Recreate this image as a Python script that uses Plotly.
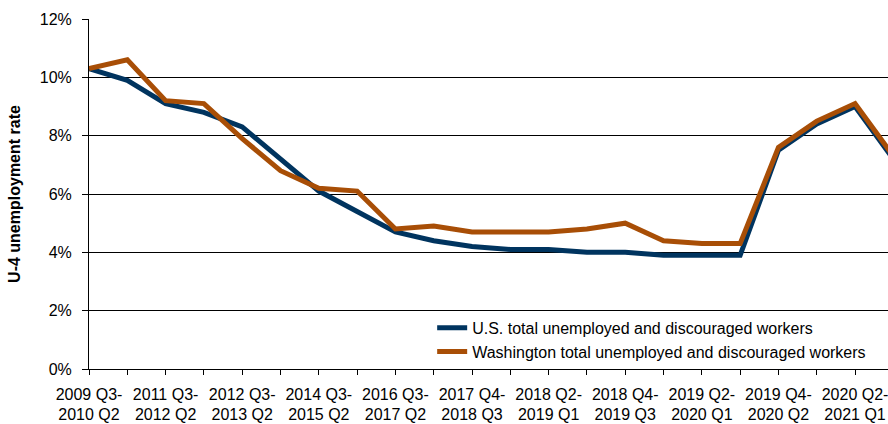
import plotly.graph_objects as go

# Rolling four-quarter periods (one point per period); every other period is labelled
label_top = ["2009 Q3-", "2011 Q3-", "2012 Q3-", "2014 Q3-", "2016 Q3-", "2017 Q4-",
             "2018 Q2-", "2018 Q4-", "2019 Q2-", "2019 Q4-", "2020 Q2-"]
label_bottom = ["2010 Q2", "2012 Q2", "2013 Q2", "2015 Q2", "2017 Q2", "2018 Q3",
                "2019 Q1", "2019 Q3", "2020 Q1", "2020 Q2", "2021 Q1"]

us_u4 = [10.3, 9.9, 9.1, 8.8, 8.3, 7.2, 6.1, 5.4, 4.7, 4.4, 4.2,
         4.1, 4.1, 4.0, 4.0, 3.9, 3.9, 3.9, 7.5, 8.4, 9.0, 7.2]
wa_u4 = [10.3, 10.6, 9.2, 9.1, 7.9, 6.8, 6.2, 6.1, 4.8, 4.9, 4.7,
         4.7, 4.7, 4.8, 5.0, 4.4, 4.3, 4.3, 7.6, 8.5, 9.1, 7.3]

series_names = [
    "U.S. total unemployed and discouraged workers",
    "Washington total unemployed and discouraged workers",
]

x = list(range(len(us_u4)))
label_pos = x[0::2][:len(label_top)]
top_text = []
for p in x:
    top_text.append(label_top[label_pos.index(p)] if p in label_pos else "")

BLUE = "#00345F"
ORANGE = "#A84E06"
FONT = "Liberation Sans, Arial, sans-serif"
FS = 16
XRANGE = [0, 20.86]

fig = go.Figure()
fig.add_trace(go.Scatter(x=x, y=us_u4, mode="lines", name=series_names[0],
                         line=dict(color=BLUE, width=5)))
fig.add_trace(go.Scatter(x=x, y=wa_u4, mode="lines", name=series_names[1],
                         line=dict(color=ORANGE, width=5)))
# carrier trace for the second row of period labels
fig.add_trace(go.Scatter(x=[x[0]], y=[0], xaxis="x2", mode="markers",
                         marker=dict(opacity=0), showlegend=False, hoverinfo="skip"))

tick_common = dict(
    range=XRANGE, ticks="outside", ticklen=5, tickwidth=1,
    showgrid=False, zeroline=False, tickangle=0,
    ticklabeloverflow="allow",
    tickfont=dict(family=FONT, size=FS, color="black"),
)

fig.update_layout(
    width=888, height=424,
    margin=dict(l=89, r=0, t=19, b=55, autoexpand=False),
    paper_bgcolor="white", plot_bgcolor="white",
    font=dict(family=FONT, size=FS, color="black"),
    showlegend=True,
    legend=dict(
        x=0.4295, y=0.166, xanchor="left", yanchor="top",
        bgcolor="white", borderwidth=0,
        font=dict(family=FONT, size=FS, color="black"),
        traceorder="normal", itemwidth=30,
    ),
    xaxis=dict(
        tickmode="array", tickvals=x, ticktext=top_text,
        tickcolor="black", showline=True, linecolor="black", linewidth=1,
        ticklabelstandoff=6, **tick_common,
    ),
    xaxis2=dict(
        overlaying="x", anchor="y", side="bottom",
        tickmode="array", tickvals=label_pos, ticktext=label_bottom,
        tickcolor="rgba(0,0,0,0)", showline=False,
        ticklabelstandoff=26, **tick_common,
    ),
    yaxis=dict(
        range=[0, 12], dtick=2, ticksuffix="%",
        ticks="outside", ticklen=6, tickcolor="black", tickwidth=1,
        showline=True, linecolor="black", linewidth=1,
        showgrid=True, gridcolor="black", gridwidth=1,
        zeroline=False, ticklabelstandoff=7,
        tickfont=dict(family=FONT, size=FS, color="black"),
        title=dict(text="<b>U-4 unemployment rate</b>",
                   font=dict(family=FONT, size=FS, color="black"), standoff=15),
    ),
)

fig.write_html("out.html")
